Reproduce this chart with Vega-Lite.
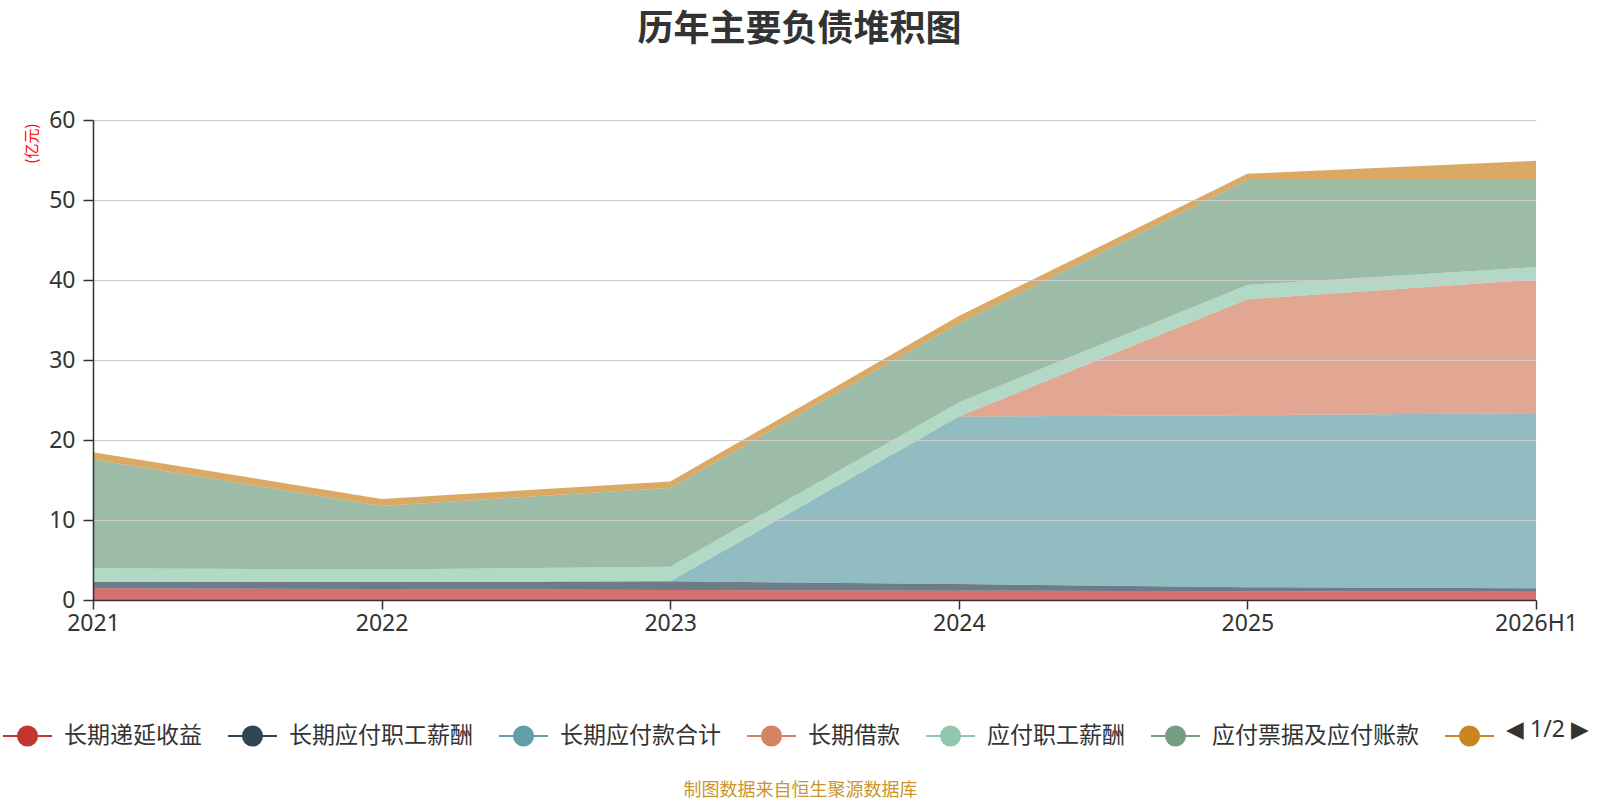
{
  "$schema": "https://vega.github.io/schema/vega-lite/v6.json",
  "width": 1443,
  "height": 480,
  "autosize": {"type": "none"},
  "padding": {"left": 93, "top": 120, "right": 64, "bottom": 200},
  "background": "white",
  "title": {
    "text": "历年主要负债堆积图",
    "font": "Noto Sans CJK SC",
    "fontSize": 36,
    "fontWeight": "bold",
    "color": "#333333",
    "anchor": "middle",
    "dx": -15,
    "offset": 60
  },
  "config": {"view": {"stroke": null}, "font": "Noto Sans CJK SC"},
  "data": {
    "values": [
      {"period": "2021", "item": "长期递延收益", "idx": 1, "value": 1.46},
      {"period": "2021", "item": "长期应付职工薪酬", "idx": 2, "value": 0.8},
      {"period": "2021", "item": "长期应付款合计", "idx": 3, "value": 0},
      {"period": "2021", "item": "长期借款", "idx": 4, "value": 0},
      {"period": "2021", "item": "应付职工薪酬", "idx": 5, "value": 1.7},
      {"period": "2021", "item": "应付票据及应付账款", "idx": 6, "value": 13.6},
      {"period": "2021", "item": "其他应付款合计", "idx": 7, "value": 0.9},
      {"period": "2022", "item": "长期递延收益", "idx": 1, "value": 1.37},
      {"period": "2022", "item": "长期应付职工薪酬", "idx": 2, "value": 0.88},
      {"period": "2022", "item": "长期应付款合计", "idx": 3, "value": 0},
      {"period": "2022", "item": "长期借款", "idx": 4, "value": 0},
      {"period": "2022", "item": "应付职工薪酬", "idx": 5, "value": 1.55},
      {"period": "2022", "item": "应付票据及应付账款", "idx": 6, "value": 7.96},
      {"period": "2022", "item": "其他应付款合计", "idx": 7, "value": 0.88},
      {"period": "2023", "item": "长期递延收益", "idx": 1, "value": 1.25},
      {"period": "2023", "item": "长期应付职工薪酬", "idx": 2, "value": 1.09},
      {"period": "2023", "item": "长期应付款合计", "idx": 3, "value": 0},
      {"period": "2023", "item": "长期借款", "idx": 4, "value": 0},
      {"period": "2023", "item": "应付职工薪酬", "idx": 5, "value": 1.83},
      {"period": "2023", "item": "应付票据及应付账款", "idx": 6, "value": 9.83},
      {"period": "2023", "item": "其他应付款合计", "idx": 7, "value": 0.8},
      {"period": "2024", "item": "长期递延收益", "idx": 1, "value": 1.17},
      {"period": "2024", "item": "长期应付职工薪酬", "idx": 2, "value": 0.83},
      {"period": "2024", "item": "长期应付款合计", "idx": 3, "value": 20.95},
      {"period": "2024", "item": "长期借款", "idx": 4, "value": 0},
      {"period": "2024", "item": "应付职工薪酬", "idx": 5, "value": 1.75},
      {"period": "2024", "item": "应付票据及应付账款", "idx": 6, "value": 9.9},
      {"period": "2024", "item": "其他应付款合计", "idx": 7, "value": 0.9},
      {"period": "2025", "item": "长期递延收益", "idx": 1, "value": 1.09},
      {"period": "2025", "item": "长期应付职工薪酬", "idx": 2, "value": 0.5},
      {"period": "2025", "item": "长期应付款合计", "idx": 3, "value": 21.5},
      {"period": "2025", "item": "长期借款", "idx": 4, "value": 14.5},
      {"period": "2025", "item": "应付职工薪酬", "idx": 5, "value": 1.8},
      {"period": "2025", "item": "应付票据及应付账款", "idx": 6, "value": 13.1},
      {"period": "2025", "item": "其他应付款合计", "idx": 7, "value": 0.78},
      {"period": "2026H1", "item": "长期递延收益", "idx": 1, "value": 1.04},
      {"period": "2026H1", "item": "长期应付职工薪酬", "idx": 2, "value": 0.42},
      {"period": "2026H1", "item": "长期应付款合计", "idx": 3, "value": 21.9},
      {"period": "2026H1", "item": "长期借款", "idx": 4, "value": 16.7},
      {"period": "2026H1", "item": "应付职工薪酬", "idx": 5, "value": 1.55},
      {"period": "2026H1", "item": "应付票据及应付账款", "idx": 6, "value": 10.9},
      {"period": "2026H1", "item": "其他应付款合计", "idx": 7, "value": 2.4}
    ]
  },
  "mark": {"type": "area", "opacity": 0.7},
  "encoding": {
    "x": {
      "field": "period",
      "type": "ordinal",
      "scale": {"type": "point", "padding": 0},
      "axis": {
        "labelAngle": 0,
        "labelFont": "Noto Sans",
        "labelFontSize": 23,
        "labelColor": "#333333",
        "labelPadding": 3,
        "domainColor": "#333333",
        "domainWidth": 1.5,
        "tickColor": "#333333",
        "tickWidth": 1.5,
        "tickSize": 9,
        "grid": false,
        "zindex": 1,
        "title": "制图数据来自恒生聚源数据库",
        "titleFont": "Noto Sans CJK SC",
        "titleFontSize": 18,
        "titleFontWeight": "normal",
        "titleColor": "#c9952c",
        "titleAlign": "center",
        "titleBaseline": "middle",
        "titleX": 707,
        "titleY": 190
      }
    },
    "y": {
      "field": "value",
      "type": "quantitative",
      "stack": "zero",
      "scale": {"domain": [0, 60]},
      "axis": {
        "values": [0, 10, 20, 30, 40, 50, 60],
        "labelFont": "Noto Sans",
        "labelFontSize": 23,
        "labelColor": "#333333",
        "labelPadding": 8,
        "domainColor": "#333333",
        "domainWidth": 1.5,
        "tickColor": "#333333",
        "tickWidth": 1.5,
        "tickSize": 10,
        "gridColor": "#cccccc",
        "gridWidth": 1,
        "zindex": 1,
        "title": "(亿元)",
        "titleFont": "Noto Sans CJK SC",
        "titleFontSize": 15,
        "titleFontWeight": "normal",
        "titleColor": "#ff0000",
        "titleAngle": -90,
        "titleAlign": "right",
        "titleBaseline": "middle",
        "titleX": -62,
        "titleY": 3
      }
    },
    "color": {
      "field": "item",
      "type": "nominal",
      "scale": {
        "domain": ["长期递延收益", "长期应付职工薪酬", "长期应付款合计", "长期借款", "应付职工薪酬", "应付票据及应付账款", "其他应付款合计"],
        "range": ["#c23531", "#2f4554", "#61a0a8", "#d48265", "#91c7ae", "#749f83", "#ca8622"]
      },
      "legend": {
        "orient": "none",
        "legendX": -91,
        "legendY": 590,
        "direction": "horizontal",
        "padding": 0,
        "title": "◀ 1/2 ▶",
        "titleOrient": "right",
        "titleAnchor": "middle",
        "titleBaseline": "middle",
        "titleFont": "Noto Sans",
        "titleFontSize": 23,
        "titleFontWeight": "normal",
        "titleColor": "#333333",
        "titlePadding": 0,
        "symbolType": "M-1,0L-0.39,0M0.39,0L1,0M0.39,0A0.39,0.39,0,1,1,-0.39,0A0.39,0.39,0,1,1,0.39,0Z",
        "symbolSize": 2401,
        "symbolStrokeWidth": 2,
        "symbolOpacity": 1,
        "labelFont": "Noto Sans CJK SC",
        "labelFontSize": 23,
        "labelColor": "#333333",
        "labelOffset": 11,
        "labelLimit": 400,
        "columnPadding": 22,
        "labelExpr": "datum.label == '其他应付款合计' ? '' : datum.label",
        "encode": {
          "symbols": {"update": {"stroke": {"scale": "color", "field": "value"}}}
        }
      }
    },
    "order": {"field": "idx", "type": "quantitative"}
  }
}
